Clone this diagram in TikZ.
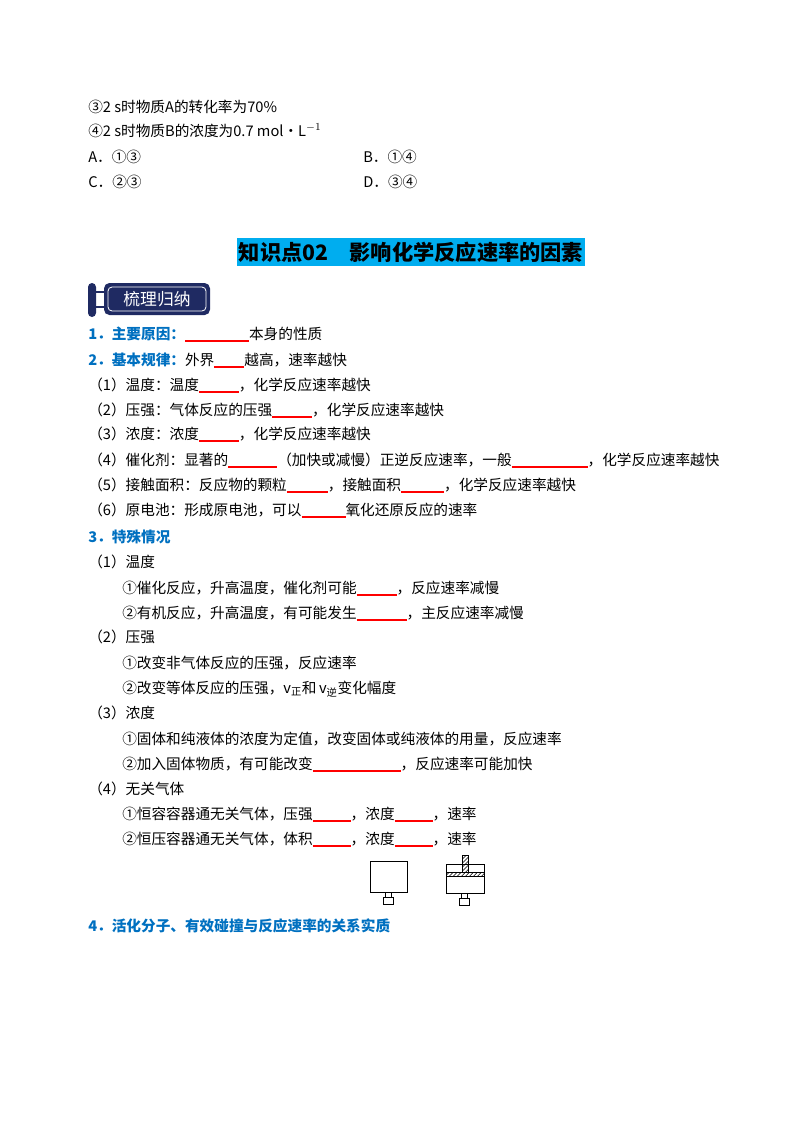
\documentclass[tikz,border=0pt]{standalone}
\usepackage{fontspec}
\setmainfont{Liberation Serif}
\newfontfamily\cjk{Noto Sans CJK SC}
\usetikzlibrary{patterns}
\definecolor{headblue}{RGB}{0,112,192}
\definecolor{navy}{RGB}{31,42,98}
\newlength\px \setlength\px{0.744pt}
\newcommand\blank[1]{\textcolor{red}{\rule[-2pt]{#1\px}{0.9pt}}}
\newcommand\hd[1]{\textcolor{headblue}{\bfseries #1}}
\tikzset{
  line/.style={anchor=base west, inner sep=0pt, font=\cjk\fontsize{10.9}{13}\selectfont},
  part/.style={line width=0.5pt}
}
\begin{document}
\begin{tikzpicture}[x=0.744pt, y=-0.744pt]
  \useasboundingbox (0,0) rectangle (800,1132);
  % question tail
  \node[line] (q3) at (88,112) {③2 s时物质A的转化率为70\%};
  \node[line] (q4) at (88,136) {④2 s时物质B的浓度为0.7 mol·L$^{-1}$};
  \node[line] (oa) at (88,162) {A．①③};
  \node[line] (ob) at (363,162) {B．①④};
  \node[line] (oc) at (88,187) {C．②③};
  \node[line] (od) at (363,187) {D．③④};
  % title
  \fill[cyan] (237,238) rectangle (585,266);
  \node[font=\cjk\fontsize{15.8}{18}\selectfont\bfseries, inner sep=0pt] (title) at (411,252) {知识点02\quad 影响化学反应速率的因素};
  % badge
  \fill[navy, rounded corners=3] (88,283) rectangle (96,317);
  \draw[navy, line width=1.2pt] (96,292) -- (106,292) (96,307) -- (106,307);
  \fill[navy, rounded corners=4] (104,283) rectangle (210,315);
  \draw[white, line width=0.6pt, rounded corners=3] (108,287) rectangle (206,311);
  \node[font=\cjk\fontsize{12.5}{14}\selectfont, text=white, inner sep=0pt] (badge) at (157,299) {梳理归纳};
  % summary lines
  \node[line] (l1) at (88,339) {\hd{1．主要原因：}\blank{64}本身的性质};
  \node[line] (l2) at (88,365) {\hd{2．基本规律：}外界\blank{30}越高，速率越快};
  \node[line] (l3) at (88,390) {（1）温度：温度\blank{40}，化学反应速率越快};
  \node[line] (l4) at (88,415) {（2）压强：气体反应的压强\blank{40}，化学反应速率越快};
  \node[line] (l5) at (88,439) {（3）浓度：浓度\blank{40}，化学反应速率越快};
  \node[line] (l6) at (88,465) {（4）催化剂：显著的\blank{49}（加快或减慢）正逆反应速率，一般\blank{76}，化学反应速率越快};
  \node[line] (l7) at (88,490) {（5）接触面积：反应物的颗粒\blank{41}，接触面积\blank{43}，化学反应速率越快};
  \node[line] (l8) at (88,515) {（6）原电池：形成原电池，可以\blank{44}氧化还原反应的速率};
  \node[line] (l9) at (88,542) {\hd{3．特殊情况}};
  \node[line] (l10) at (88,567) {（1）温度};
  \node[line] (l11) at (122,593) {①催化反应，升高温度，催化剂可能\blank{40}，反应速率减慢};
  \node[line] (l12) at (122,618) {②有机反应，升高温度，有可能发生\blank{50}，主反应速率减慢};
  \node[line] (l13) at (88,642) {（2）压强};
  \node[line] (l14) at (122,668) {①改变非气体反应的压强，反应速率};
  \node[line] (l15) at (122,693) {②改变等体反应的压强，\textit{v}\textsubscript{正}和\,\textit{v}\textsubscript{逆}变化幅度};
  \node[line] (l16) at (88,718) {（3）浓度};
  \node[line] (l17) at (122,744) {①固体和纯液体的浓度为定值，改变固体或纯液体的用量，反应速率};
  \node[line] (l18) at (122,769) {②加入固体物质，有可能改变\blank{88}，反应速率可能加快};
  \node[line] (l19) at (88,794) {（4）无关气体};
  \node[line] (l20) at (122,819) {①恒容容器通无关气体，压强\blank{38}，浓度\blank{38}，速率};
  \node[line] (l21) at (122,844) {②恒压容器通无关气体，体积\blank{38}，浓度\blank{38}，速率};
  % containers
  \draw[part] (370,861) rectangle (407,892);
  \draw[part] (385,892) rectangle (391,897);
  \draw[part] (383,897) rectangle (393,904);
  \draw[part] (446,864) rectangle (484,893);
  \draw[part, pattern=north east lines] (446,872) rectangle (484,876);
  \draw[part, pattern=north east lines] (462,855) rectangle (468,872);
  \draw[part] (461,893) rectangle (467,898);
  \draw[part] (459,898) rectangle (469,905);
  \node[line] (l22) at (88,931) {\hd{4．活化分子、有效碰撞与反应速率的关系实质}};
\end{tikzpicture}
\end{document}
